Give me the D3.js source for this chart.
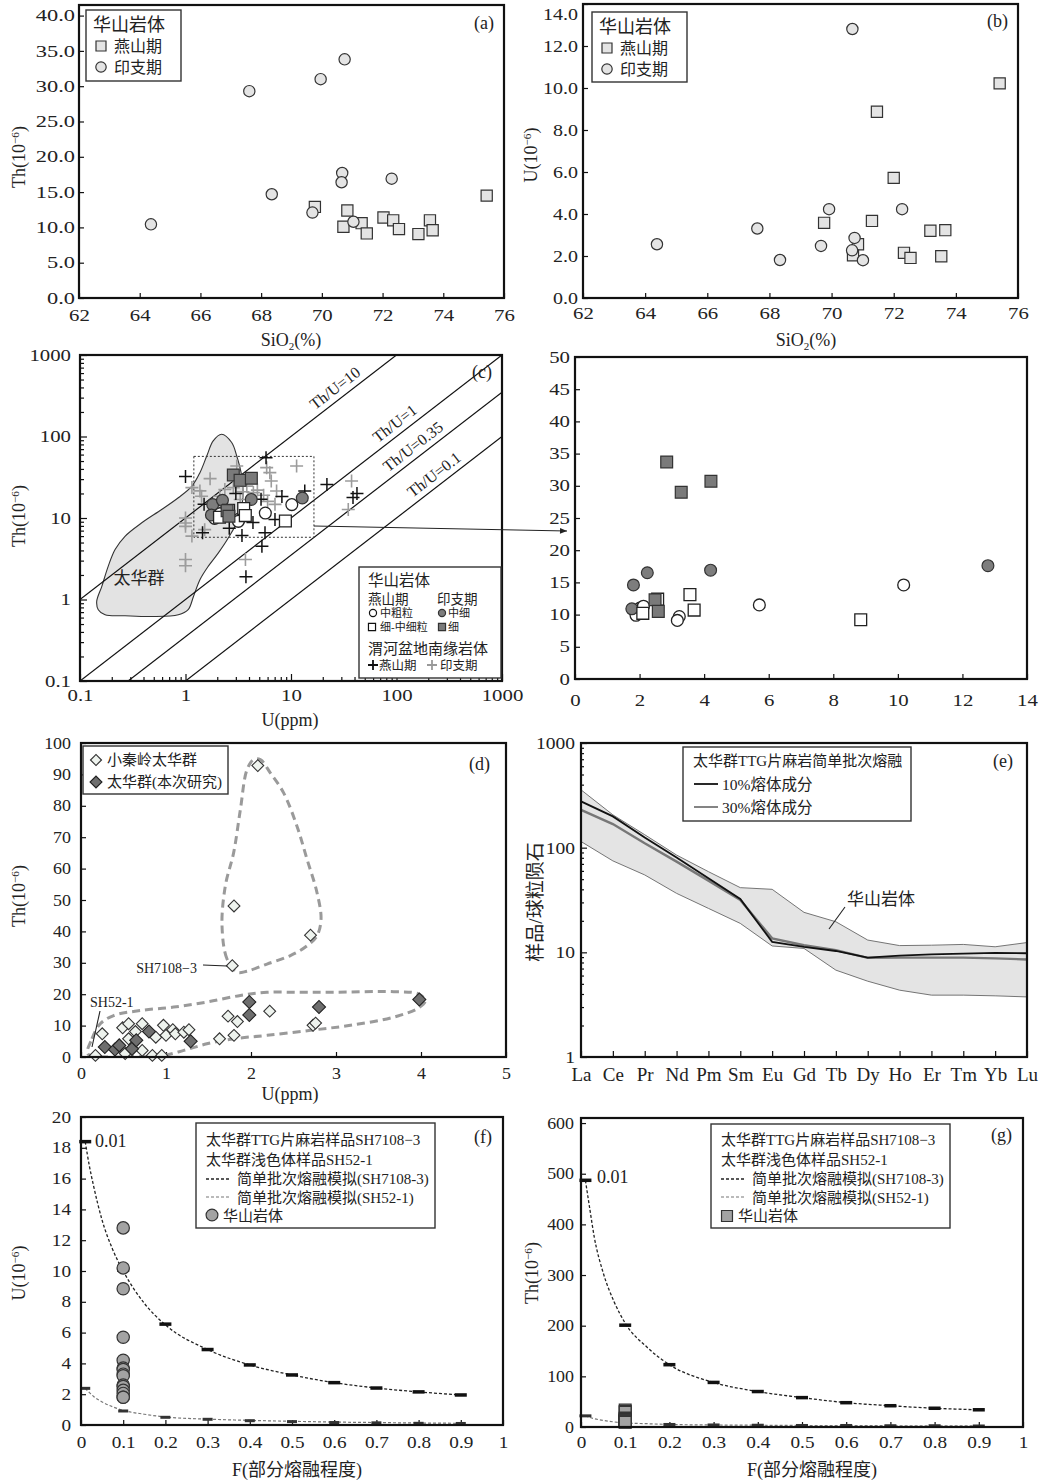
<!DOCTYPE html>
<html>
<head>
<meta charset="utf-8">
<title>华山岩体 Th-U</title>
<script src="https://cdn.jsdelivr.net/npm/d3@7"></script>
<style>
body{margin:0;background:#fff}
text{fill:#222}
</style>
</head>
<body>
<svg id="mySVG" width="1050" height="1484"></svg>
<script>
//======================DATA========================================
//---(a) SiO2 vs Th---
var aYsSiO2=[69.77,70.71,70.84,71.31,71.48,72.03,72.35,72.54,73.18,73.56,73.65,75.43]
var aYsTh=[12.9,10.1,12.4,10.6,9.15,11.4,11.0,9.76,9.05,11.0,9.6,14.5]
var aYzSiO2=[64.37,67.61,68.35,69.69,69.96,70.67,70.65,70.75,71.04,72.3]
var aYzTh=[10.43,29.3,14.7,12.1,31.0,17.7,16.4,33.8,10.8,16.9]
//---(b) SiO2 vs U---
var bYsSiO2=[69.76,70.85,70.69,71.30,71.46,72.0,72.33,72.54,73.18,73.53,73.66,75.41]
var bYsU=[3.58,2.56,2.03,3.67,8.87,5.72,2.15,1.91,3.2,1.99,3.23,10.22]
var bYzSiO2=[64.38,67.61,68.34,69.66,69.92,70.67,70.74,70.66,71.01,72.27]
var bYzU=[2.56,3.31,1.81,2.48,4.23,12.81,2.86,2.27,1.80,4.23]
//---(c) U vs Th, Huashan---
var cWciU=[1.89,2.01,2.12,3.23,3.17,5.71,10.18], cWciTh=[9.9,11.0,11.3,9.7,9.1,11.5,14.6]
var cGciU=[1.81,2.24,4.2,12.79,1.76], cGciTh=[14.6,16.5,16.9,17.6,10.9]
var cWsqU=[2.56,2.10,3.56,3.69,8.85], cWsqTh=[12.4,10.2,13.1,10.7,9.2]
var cGsqU=[2.84,3.29,4.21,2.48,2.58], cGsqTh=[33.7,29.0,30.7,12.3,10.5]
//---(c) Weihe basin granites---
var cBlkU=[1.0,5.8,1.5,1.45,3.43,5.67,5.3,3.74,21.9,38.7,42.2,7.05,8.2,13.5,4.36,3.0,5.2,2.6]
var cBlkTh=[32.4,55,14.7,6.6,6.1,6.6,4.5,1.9,25.8,17.9,20,9.6,18.4,21.5,8.8,20,17,7.5]
var cGryU=[1.71,1.15,1.37,1.0,1.0,1.0,1.15,1.52,1.0,1.0,3.7,1.42,2.36,3.06,11.3,5.88,6.3,6.5,37.5,34.9,7.3,7.05,2.84,3.81,4.4,3.3,2.11,5.5,6.0,4.8,3.5]
var cGryTh=[30.4,23.6,21.5,10.0,8.7,7.9,6.0,7.2,3.1,2.6,3.1,18.5,22.4,43.4,43.4,41.5,36,28.4,28.4,12.7,21.4,14.7,23.6,24.6,20.5,16.9,18.5,19,16,22,21]
//---(c) Taihua field outline---
var cFieldU=[2.20,2.74,3.06,3.41,3.51,3.15,2.55,2.05,1.64,1.37,1.19,1.06,0.855,0.479,0.267,0.173,0.149,0.144,0.161,0.185,0.215,0.267,0.385,0.594,0.855,1.15,1.37,1.59,1.83]
var cFieldTh=[106.6,84.3,57.6,32.7,18.4,9.59,5.71,3.73,2.55,1.75,1.09,0.75,0.649,0.618,0.631,0.649,0.75,0.946,1.45,2.55,4.1,5.97,8.73,12.7,17.7,24.6,36.0,57.6,88.2]
var cRatios=[10,1,0.35,0.1]
var cRatioLabelU=[30.4,112,167,264]
//---(d) U vs Th, Taihua group---
var dOpenU=[2.08,1.80,2.70,1.78,0.25,0.17,0.49,0.56,0.56,0.64,0.72,0.72,0.88,0.97,1.0,1.08,1.11,1.21,1.27,0.52,0.84,0.95,1.63,1.73,1.80,1.84,2.22,2.73,2.76]
var dOpenTh=[92.8,48.1,38.8,29.1,7.4,0.5,9.3,10.6,5.8,8.1,10.6,2.1,6.3,10.1,6.9,8.7,7.4,7.9,8.7,1.1,0.5,0.5,5.8,13.0,6.9,11.3,14.6,10.1,10.8]
var dDarkU=[0.28,0.40,0.45,0.60,0.65,0.80,1.29,1.98,1.98,2.80,3.98]
var dDarkTh=[3.2,2.4,3.7,2.6,5.3,8.1,5.0,17.5,13.4,15.9,18.3]
var dLoop1U=[1.835,1.718,1.659,1.698,1.796,1.875,1.953,2.031,2.11,2.227,2.384,2.541,2.659,2.776,2.824,2.776,2.659,2.463,2.188,1.95]
var dLoop1Th=[27.0,31.2,41.8,54.5,65.1,78.8,91.5,94.7,94.7,90.5,84.1,73.5,63.0,52.4,43.9,38.6,35.4,32.3,29.6,27.3]
var dLoop2U=[0.078,0.129,0.227,0.384,0.698,1.09,1.48,1.875,2.188,2.58,2.97,3.68,3.97,4.05,3.97,3.68,3.17,2.70,2.19,1.80,1.48,1.21,0.93,0.62,0.23]
var dLoop2Th=[1.06,5.8,10.6,13.2,14.8,15.9,17.5,19.6,20.6,20.6,20.6,20.8,20.1,18.0,15.6,12.7,10.1,8.5,6.9,5.8,4.2,2.1,0.3,0.1,0.1]
//---(e) REE chondrite normalized---
var ree=["La","Ce","Pr","Nd","Pm","Sm","Eu","Gd","Tb","Dy","Ho","Er","Tm","Yb","Lu"]
var eUpper=[357,206,133,85,59,41.5,40,24.1,19.6,13.1,11.6,11.7,11.9,11.3,12.4]
var eLower=[114.5,74.8,54.9,36.6,26.3,18.9,11.5,10.9,6.76,5.3,4.35,3.9,3.9,3.84,3.75]
var eMelt10=[277,199,125,80.5,51,32.3,12.6,11.3,10.3,8.9,9.3,9.55,9.7,9.9,9.8]
var eMelt30=[230,168,110,73.6,48.4,31.6,13.6,11.7,10.5,8.85,8.9,8.9,8.9,8.75,8.55]
//---(f),(g) batch melting---
var meltF=[0.01,0.1,0.2,0.3,0.4,0.5,0.6,0.7,0.8,0.9]
var fU7108=[18.4,10.05,6.55,4.9,3.9,3.25,2.75,2.4,2.15,1.95]
var fU52=[2.38,0.91,0.5,0.37,0.28,0.22,0.16,0.14,0.11,0.1]
var curveF=[0.01,0.02,0.03,0.05,0.075,0.1,0.15,0.2,0.3,0.4,0.5,0.6,0.7,0.8,0.9]
var fCurve7108=[18.4,16.8,15.5,13.3,11.4,10.0,7.9,6.5,4.9,3.9,3.25,2.75,2.4,2.15,1.95]
var fCurve52=[2.38,2.1,1.85,1.5,1.18,0.95,0.7,0.52,0.38,0.3,0.24,0.19,0.16,0.13,0.11]
var fHsU=[12.8,10.2,8.85,5.7,4.2,3.7,3.6,3.3,3.2,2.6,2.5,2.25,2.05,1.8,1.8]
var gTh7108=[487,201,123,88,70,58,48,42,37,34]
var gTh52=[22,8,5,4,3.5,3,3,2.5,2.5,2]
var gCurve7108=[487,430,375,305,247,205,157,123,88,70,58,48,42,37,34]
var gCurve52=[22,19,16.5,13,10,8,6.5,5,4,3.5,3,3,2.5,2.5,2]
var gHsTh=[33.6,30.8,29.1,17.6,16.9,14.6,13.1,12.5,12.3,11.5,11.0,10.8,10.5,10.3,9.3]

//======================HELPERS========================================
var FONT='"Liberation Serif","Times New Roman","Noto Sans CJK SC",serif'
var svg=d3.select("#mySVG").style("font-family",FONT)
svg.append("rect").attr("width",1050).attr("height",1484).attr("fill","#fff")

var defs=svg.append("defs")
defs.append("marker").attr("id","arrowHead").attr("viewBox","0 0 10 10")
  .attr("refX",10).attr("refY",5).attr("markerWidth",9).attr("markerHeight",7)
  .attr("orient","auto").attr("markerUnits","userSpaceOnUse")
  .append("path").attr("d","M0,1L10,5L0,9Z").attr("fill","#222")

function frame(l,t,r,b){
  svg.append("rect").attr("x",l).attr("y",t).attr("width",r-l).attr("height",b-t)
  .attr("fill","none").attr("stroke","#111").attr("stroke-width",2.2)
}
function clip(id,l,t,r,b){
  defs.append("clipPath").attr("id",id).append("rect")
  .attr("x",l).attr("y",t).attr("width",r-l).attr("height",b-t)
}
//---inside ticks, tick labels a bit wide like the original---
function styleAxis(g,fs,st){
  g.select(".domain").remove()
  g.selectAll("text").attr("font-family",FONT).attr("font-size",fs||16).attr("fill","#222")
  if(st) g.selectAll("text").attr("transform","scale("+st+",1)")
  g.selectAll("line").attr("stroke","#111").attr("stroke-width",1.2)
}
function axisLeft(x,scale,vals,fmt,pad,size,fs,st){
  var g=svg.append("g").attr("transform","translate("+x+",0)")
  .call(d3.axisLeft(scale).tickValues(vals).tickFormat(fmt).tickSizeInner(-size).tickSizeOuter(0).tickPadding(pad/(st||1)))
  styleAxis(g,fs,st)
  return g
}
function axisBottom(y,scale,vals,fmt,pad,size,fs,st){
  var g=svg.append("g").attr("transform","translate(0,"+y+")")
  .call(d3.axisBottom(scale).tickValues(vals).tickFormat(fmt).tickSizeInner(-size).tickSizeOuter(0).tickPadding(pad))
  styleAxis(g,fs,st)
  if(st) g.selectAll("text").attr("x",0)
  return g
}
function txt(x,y,s,fs,anchor){
  return svg.append("text").attr("x",x).attr("y",y).text(s)
  .attr("font-size",fs).attr("text-anchor",anchor||"start")
}
//---Th(10^-6) style title, rotated---
function yTitle(x,y,head,sup,tail,fs){
  var t=svg.append("text").attr("transform","translate("+x+","+y+")rotate(-90)")
  .attr("text-anchor","middle").attr("font-size",fs)
  t.append("tspan").text(head)
  if(sup){
    t.append("tspan").attr("dy",-6).attr("font-size",fs*0.62).text(sup)
    t.append("tspan").attr("dy",6).text(tail)
  }
  return t
}
function sioTitle(x,y){
  var t=svg.append("text").attr("x",x).attr("y",y).attr("text-anchor","middle").attr("font-size",18)
  t.append("tspan").text("SiO")
  t.append("tspan").attr("dy",4).attr("font-size",11).text("2")
  t.append("tspan").attr("dy",-4).text("(%)")
}
var SQ=d3.symbol().type(d3.symbolSquare)
var CI=d3.symbol().type(d3.symbolCircle)
function pts(xs,ys,sx,sy,shape,size,fill,stroke,sw,rot,clipId){
  var g=svg.append("g")
  if(clipId) g.attr("clip-path","url(#"+clipId+")")
  g.selectAll(null).data(xs).enter().append("path")
  .attr("d",shape.size(size)())
  .attr("transform",function(d,i){return "translate("+sx(d)+","+sy(ys[i])+")"+(rot?"rotate(45)":"")})
  .attr("fill",fill).attr("stroke",stroke).attr("stroke-width",sw)
}
function crosses(xs,ys,sx,sy,arm,color,sw){
  svg.append("g").selectAll(null).data(xs).enter().append("path")
  .attr("d","M"+(-arm)+",0H"+arm+"M0,"+(-arm)+"V"+arm)
  .attr("transform",function(d,i){return "translate("+sx(d)+","+sy(ys[i])+")"})
  .attr("stroke",color).attr("stroke-width",sw).attr("fill","none")
}
function legendBox(l,t,r,b,sw){
  svg.append("rect").attr("x",l).attr("y",t).attr("width",r-l).attr("height",b-t)
  .attr("fill","#fff").attr("stroke","#333").attr("stroke-width",sw||1.4)
}
function mark(x,y,shape,size,fill,stroke,rot){
  svg.append("path").attr("d",shape.size(size)())
  .attr("transform","translate("+x+","+y+")"+(rot?"rotate(45)":""))
  .attr("fill",fill).attr("stroke",stroke).attr("stroke-width",1.2)
}
var f1=d3.format(".1f")

//======================PANEL (a)========================================
var xA=d3.scaleLinear().domain([62,76]).range([79,504])
var yA=d3.scaleLinear().domain([0,41.5]).range([298,5])
axisLeft(79,yA,d3.range(0,41,5),f1,4,5,16,1.4)
axisBottom(298,xA,d3.range(62,77,2),d3.format("d"),12,5,16,1.3)
pts(aYsSiO2,aYsTh,xA,yA,SQ,125,"#e4e4e4","#333",1.2)
pts(aYzSiO2,aYzTh,xA,yA,CI,100,"#e4e4e4","#333",1.2)
frame(79,5,504,298)
legendBox(86,10,181,81)
txt(93,31,"华山岩体",18)
mark(101,46,SQ,100,"#e4e4e4","#333")
txt(114,52,"燕山期",16)
mark(101,67,CI,85,"#e4e4e4","#333")
txt(114,73,"印支期",16)
txt(494,29,"(a)",18,"end")
yTitle(25,157,"Th(10","−6",")",18)
sioTitle(291,346)

//======================PANEL (b)========================================
var xB=d3.scaleLinear().domain([62,76]).range([583,1018])
var yB=d3.scaleLinear().domain([0,14]).range([298,4])
var bAx=axisLeft(583,yB,d3.range(0,15,2),f1,5,5,16,1.25)
bAx.selectAll(".tick text").filter(function(d){return d==14}).attr("dy","1.0em")
axisBottom(298,xB,d3.range(62,77,2),d3.format("d"),10,5,16,1.3)
pts(bYsSiO2,bYsU,xB,yB,SQ,125,"#e4e4e4","#333",1.2)
pts(bYzSiO2,bYzU,xB,yB,CI,100,"#e4e4e4","#333",1.2)
frame(583,4,1018,298)
legendBox(592,12,687,82)
txt(599,33,"华山岩体",18)
mark(607,48,SQ,100,"#e4e4e4","#333")
txt(620,54,"燕山期",16)
mark(607,69,CI,85,"#e4e4e4","#333")
txt(620,75,"印支期",16)
txt(1008,27,"(b)",18,"end")
yTitle(537,155,"U(10","−6",")",18)
sioTitle(806,346)

//======================PANEL (c) log-log========================================
var xC=d3.scaleLog().domain([0.1,1000]).range([80,502])
var yC=d3.scaleLog().domain([0.1,1000]).range([681,355])
var decades=[0.1,1,10,100,1000]
var minors=[]
decades.slice(0,4).forEach(function(d){for(var k=2;k<10;k++)minors.push(d*k)})
var logFmt=function(d){return d<1?"0.1":d3.format("d")(d)}
axisLeft(80,yC,decades,logFmt,9,7,16,1.3)
axisLeft(80,yC,minors,"",9,4)
axisBottom(681,xC,decades,logFmt,9,7,16,1.3)
axisBottom(681,xC,minors,"",9,4)
clip("clipC",80,355,502,681)
//---Taihua field---
svg.append("path").datum(cFieldU)
.attr("d",d3.line().x(function(d){return xC(d)}).y(function(d,i){return yC(cFieldTh[i])}).curve(d3.curveCatmullRomClosed))
.attr("fill","#e3e3e3").attr("stroke","#333").attr("stroke-width",1.1)
txt(139,584,"太华群",17,"middle")
//---Th/U lines---
var ratioG=svg.append("g").attr("clip-path","url(#clipC)")
cRatios.forEach(function(k){
  ratioG.append("line").attr("x1",xC(0.01)).attr("y1",yC(0.01*k)).attr("x2",xC(10000)).attr("y2",yC(10000*k))
  .attr("stroke","#111").attr("stroke-width",1.2)
})
var ang=-Math.atan((yC(1)-yC(10))/(xC(10)-xC(1)))*180/Math.PI
var ratioNames=["Th/U=10","Th/U=1","Th/U=0.35","Th/U=0.1"]
cRatios.forEach(function(k,i){
  var u=cRatioLabelU[i]
  svg.append("text").attr("transform","translate("+xC(u)+","+yC(u*k)+")rotate("+ang+")")
  .attr("text-anchor","middle").attr("dy",-6).attr("font-size",16).text(ratioNames[i])
})
//---zoom window---
svg.append("rect").attr("x",xC(1.2)).attr("y",yC(57)).attr("width",xC(16.5)-xC(1.2)).attr("height",yC(5.8)-yC(57))
.attr("fill","none").attr("stroke","#333").attr("stroke-width",1).attr("stroke-dasharray","2,2")
crosses(cGryU,cGryTh,xC,yC,6.5,"#9c9c9c",1.6)
crosses(cBlkU,cBlkTh,xC,yC,6.5,"#111",1.5)
pts(cWciU,cWciTh,xC,yC,CI,110,"#fff","#222",1.3)
pts(cGciU,cGciTh,xC,yC,CI,110,"#7d7d7d","#333",1.2)
pts(cWsqU,cWsqTh,xC,yC,SQ,140,"#fff","#222",1.3)
pts(cGsqU,cGsqTh,xC,yC,SQ,140,"#7a7a7a","#333",1.2)
frame(80,355,502,681)
txt(492,378,"(c)",18,"end")
//---legend c---
legendBox(359,567,501,678)
txt(368,586,"华山岩体",15.5)
txt(368,604,"燕山期",13.5)
txt(437,604,"印支期",13.5)
mark(373,613,CI,40,"#fff","#111")
txt(380,617,"中粗粒",11)
mark(442,613,CI,40,"#7d7d7d","#333")
txt(448,617,"中细",11)
mark(372,627,SQ,50,"#fff","#111")
txt(380,631,"细-中细粒",11)
mark(442,627,SQ,50,"#7a7a7a","#333")
txt(448,631,"细",11)
txt(368,654,"渭河盆地南缘岩体",15)
svg.append("path").attr("d","M368,665H378M373,660V670").attr("stroke","#111").attr("stroke-width",1.8)
txt(379,670,"燕山期",12.5)
svg.append("path").attr("d","M427,665H437M432,660V670").attr("stroke","#999").attr("stroke-width",1.8)
txt(440,670,"印支期",12.5)
yTitle(25,516,"Th(10","−6",")",18)
txt(290,726,"U(ppm)",18,"middle")

//---arrow to enlarged view---
svg.append("line").attr("x1",xC(16.5)).attr("y1",526).attr("x2",567).attr("y2",531)
.attr("stroke","#222").attr("stroke-width",1).attr("marker-end","url(#arrowHead)")

//======================PANEL (c) linear enlargement========================================
var xC2=d3.scaleLinear().domain([0,14]).range([575,1027])
var yC2=d3.scaleLinear().domain([0,50]).range([679,357])
axisLeft(575,yC2,d3.range(0,51,5),d3.format("d"),5,5,16,1.3)
axisBottom(679,xC2,d3.range(0,15,2),d3.format("d"),16,5,16,1.3)
pts(cWciU,cWciTh,xC2,yC2,CI,110,"#fff","#222",1.3)
pts(cGciU,cGciTh,xC2,yC2,CI,110,"#7d7d7d","#333",1.2)
pts(cWsqU,cWsqTh,xC2,yC2,SQ,140,"#fff","#222",1.3)
pts(cGsqU,cGsqTh,xC2,yC2,SQ,140,"#7a7a7a","#333",1.2)
frame(575,357,1027,679)

//======================PANEL (d)========================================
var xD=d3.scaleLinear().domain([0,5]).range([81,506])
var yD=d3.scaleLinear().domain([0,100]).range([1057,743])
axisLeft(81,yD,d3.range(0,101,10),d3.format("d"),10,5,16,1.12)
axisBottom(1057,xD,d3.range(0,6,1),d3.format("d"),11,5,16,1.12)
clip("clipD",81,743,506,1057)
var loopLine=function(ths){return d3.line().x(function(d){return xD(d)}).y(function(d,i){return yD(ths[i])}).curve(d3.curveCatmullRomClosed)}
var dLoops=svg.append("g").attr("clip-path","url(#clipD)")
dLoops.append("path").datum(dLoop1U).attr("d",loopLine(dLoop1Th))
.attr("fill","none").attr("stroke","#9a9a9a").attr("stroke-width",3).attr("stroke-dasharray","8,5")
dLoops.append("path").datum(dLoop2U).attr("d",loopLine(dLoop2Th))
.attr("fill","none").attr("stroke","#9a9a9a").attr("stroke-width",3).attr("stroke-dasharray","8,5")
pts(dOpenU,dOpenTh,xD,yD,SQ,70,"#eef3ee","#333",1.1,true)
pts(dDarkU,dDarkTh,xD,yD,SQ,85,"#6e6e6e","#222",1.1,true)
frame(81,743,506,1057)
legendBox(83,746,228,794)
mark(96,760,SQ,60,"#eef3ee","#333",true)
txt(107,765,"小秦岭太华群",15)
mark(96,782,SQ,70,"#6e6e6e","#222",true)
txt(107,787,"太华群(本次研究)",15)
txt(490,770,"(d)",18,"end")
txt(197,973,"SH7108−3",14,"end")
svg.append("line").attr("x1",203).attr("y1",965).attr("x2",xD(1.78)-5).attr("y2",yD(29.3)+1).attr("stroke","#222").attr("stroke-width",1.1)
txt(90,1007,"SH52-1",14)
svg.append("line").attr("x1",100).attr("y1",1011).attr("x2",92).attr("y2",1047).attr("stroke","#222").attr("stroke-width",1.1)
yTitle(25,896,"Th(10","−6",")",18)
txt(290,1100,"U(ppm)",18,"middle")

//======================PANEL (e)========================================
var xE=d3.scalePoint().domain(ree).range([581,1027])
var yE=d3.scaleLog().domain([1,1000]).range([1057,743])
var eMinor=[]
;[1,10,100].forEach(function(d){for(var k=2;k<10;k++)eMinor.push(d*k)})
axisLeft(581,yE,[1,10,100,1000],d3.format("d"),6,6,17,1.15)
axisLeft(581,yE,eMinor,"",6,3)
axisBottom(1057,xE,ree,null,11,6,19)
svg.append("path").datum(ree)
.attr("d",d3.area().x(function(d){return xE(d)}).y0(function(d,i){return yE(eLower[i])}).y1(function(d,i){return yE(eUpper[i])}))
.attr("fill","#e4e4e4").attr("stroke","none")
;[eUpper,eLower].forEach(function(arr){
  svg.append("path").datum(ree)
  .attr("d",d3.line().x(function(d){return xE(d)}).y(function(d,i){return yE(arr[i])}))
  .attr("fill","none").attr("stroke","#666").attr("stroke-width",0.9)
})
svg.append("path").datum(ree)
.attr("d",d3.line().x(function(d){return xE(d)}).y(function(d,i){return yE(eMelt30[i])}))
.attr("fill","none").attr("stroke","#777").attr("stroke-width",2.4)
svg.append("path").datum(ree)
.attr("d",d3.line().x(function(d){return xE(d)}).y(function(d,i){return yE(eMelt10[i])}))
.attr("fill","none").attr("stroke","#111").attr("stroke-width",1.8)
frame(581,743,1027,1057)
legendBox(683,747,911,821)
txt(693,766,"太华群TTG片麻岩简单批次熔融",15)
svg.append("line").attr("x1",694).attr("y1",784).attr("x2",718).attr("y2",784).attr("stroke","#111").attr("stroke-width",1.8)
txt(722,790,"10%熔体成分",15.5)
svg.append("line").attr("x1",694).attr("y1",807).attr("x2",718).attr("y2",807).attr("stroke","#777").attr("stroke-width",1.8)
txt(722,813,"30%熔体成分",15.5)
txt(1013,767,"(e)",18,"end")
txt(847,905,"华山岩体",17)
svg.append("line").attr("x1",845).attr("y1",907).attr("x2",829).attr("y2",929).attr("stroke","#222").attr("stroke-width",1.1)
svg.append("text").attr("transform","translate(542,902)rotate(-90)").attr("text-anchor","middle").attr("font-size",19).text("样品/球粒陨石")

//======================PANEL (f)========================================
var fTick=d3.range(0,11).map(function(i){return i/10})
var fFmt=function(d){return (d===0||d===1)?String(d):d.toFixed(1)}
var xF=d3.scaleLinear().domain([0,1]).range([81,503])
var yF=d3.scaleLinear().domain([0,20]).range([1425,1117])
axisLeft(81,yF,d3.range(0,21,2),d3.format("d"),10,5,16,1.2)
axisBottom(1425,xF,fTick,fFmt,12,5,16,1.2)
function meltCurve(sx,sy,ys,color,w){
  svg.append("path").datum(curveF)
  .attr("d",d3.line().x(function(d){return sx(d)}).y(function(d,i){return sy(ys[i])}).curve(d3.curveMonotoneX))
  .attr("fill","none").attr("stroke",color).attr("stroke-width",w).attr("stroke-dasharray","3,2")
}
function meltMarks(sx,sy,ys,color,w,h){
  svg.append("g").selectAll(null).data(meltF).enter().append("rect")
  .attr("x",function(d){return sx(d)-w/2}).attr("y",function(d,i){return sy(ys[i])-h/2})
  .attr("width",w).attr("height",h).attr("fill",color)
}
meltCurve(xF,yF,fCurve52,"#777",1.2)
meltCurve(xF,yF,fCurve7108,"#222",1.3)
meltMarks(xF,yF,fU52,"#333",10,3)
meltMarks(xF,yF,fU7108,"#111",12,3.5)
pts(fHsU.map(function(){return 0.1}),fHsU,xF,yF,CI,120,"#a3a3a3","#333",1.2)
frame(81,1117,503,1425)
txt(95,1147,"0.01",18)
legendBox(196,1123,435,1228)
txt(206,1145,"太华群TTG片麻岩样品SH7108−3",15)
txt(206,1165,"太华群浅色体样品SH52-1",15)
svg.append("line").attr("x1",206).attr("y1",1179).attr("x2",230).attr("y2",1179).attr("stroke","#222").attr("stroke-width",1.3).attr("stroke-dasharray","3,2")
txt(237,1184,"简单批次熔融模拟(SH7108-3)",15)
svg.append("line").attr("x1",206).attr("y1",1197).attr("x2",230).attr("y2",1197).attr("stroke","#777").attr("stroke-width",1.2).attr("stroke-dasharray","3,2")
txt(237,1203,"简单批次熔融模拟(SH52-1)",15)
mark(212,1215,CI,110,"#a3a3a3","#333")
txt(223,1221,"华山岩体",15)
txt(492,1143,"(f)",18,"end")
yTitle(25,1273,"U(10","−6",")",18)
txt(297,1476,"F(部分熔融程度)",18,"middle")

//======================PANEL (g)========================================
var xG=d3.scaleLinear().domain([0,1]).range([581,1023])
var yG=d3.scaleLinear().domain([0,610]).range([1427,1118])
axisLeft(581,yG,d3.range(0,601,100),d3.format("d"),7,5,16,1.12)
axisBottom(1427,xG,fTick,fFmt,10,5,16,1.2)
meltCurve(xG,yG,gCurve52,"#777",1.2)
meltCurve(xG,yG,gCurve7108,"#222",1.3)
meltMarks(xG,yG,gTh52,"#333",12,3)
meltMarks(xG,yG,gTh7108,"#111",12,3.5)
pts(gHsTh.map(function(){return 0.1}),gHsTh,xG,yG,SQ,140,"#a3a3a3","#333",1.2)
frame(581,1118,1023,1427)
txt(597,1183,"0.01",18)
legendBox(711,1124,950,1228)
txt(721,1145,"太华群TTG片麻岩样品SH7108−3",15)
txt(721,1165,"太华群浅色体样品SH52-1",15)
svg.append("line").attr("x1",721).attr("y1",1179).attr("x2",745).attr("y2",1179).attr("stroke","#222").attr("stroke-width",1.3).attr("stroke-dasharray","3,2")
txt(752,1184,"简单批次熔融模拟(SH7108-3)",15)
svg.append("line").attr("x1",721).attr("y1",1197).attr("x2",745).attr("y2",1197).attr("stroke","#777").attr("stroke-width",1.2).attr("stroke-dasharray","3,2")
txt(752,1203,"简单批次熔融模拟(SH52-1)",15)
mark(727,1216,SQ,120,"#a3a3a3","#333")
txt(738,1221,"华山岩体",15)
txt(1012,1141,"(g)",18,"end")
yTitle(538,1273,"Th(10","−6",")",18)
txt(812,1476,"F(部分熔融程度)",18,"middle")
</script>
</body>
</html>
